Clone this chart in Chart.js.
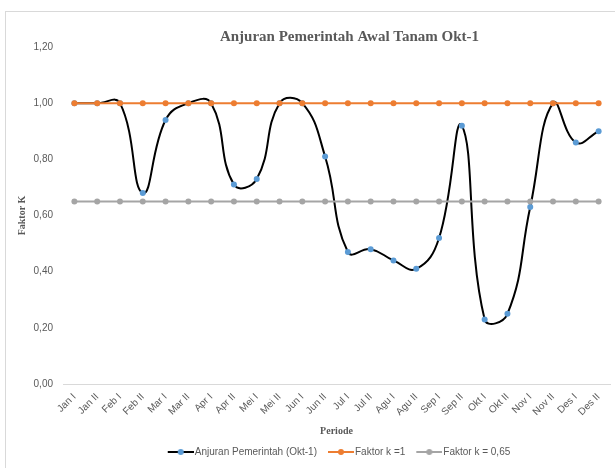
<!DOCTYPE html>
<html>
<head>
<meta charset="utf-8">
<script src="https://cdn.jsdelivr.net/npm/chart.js@4.4.0/dist/chart.umd.min.js"></script>
<style>
  html, body { margin: 0; padding: 0; background: #ffffff; }
  #wrap { width: 615px; height: 468px; position: relative; }
</style>
</head>
<body>
<div id="wrap"><canvas id="c" width="615" height="468"></canvas></div>
<script>
const categories = ["Jan I","Jan II","Feb I","Feb II","Mar I","Mar II","Apr I","Apr II","Mei I","Mei II","Jun I","Jun II","Jul I","Jul II","Agu I","Agu II","Sep I","Sep II","Okt I","Okt II","Nov I","Nov II","Des I","Des II"];
const anjuranValues = [1.00,1.00,1.00,0.68,0.94,1.00,1.00,0.71,0.73,1.00,1.00,0.81,0.47,0.48,0.44,0.41,0.52,0.92,0.23,0.25,0.63,1.00,0.86,0.90];
const faktorK1 = [1,1,1,1,1,1,1,1,1,1,1,1,1,1,1,1,1,1,1,1,1,1,1,1];
const faktorK065 = [0.65,0.65,0.65,0.65,0.65,0.65,0.65,0.65,0.65,0.65,0.65,0.65,0.65,0.65,0.65,0.65,0.65,0.65,0.65,0.65,0.65,0.65,0.65,0.65];
const seriesNames = ["Anjuran Pemerintah (Okt-1)", "Faktor k =1", "Faktor k = 0,65"];
const chartTitle = "Anjuran Pemerintah Awal Tanam Okt-1";
const yTitle = "Faktor K";
const xTitle = "Periode";

const TEXT = '#595959';
const BLUE = '#5B9BD5', ORANGE = '#ED7D31', GRAY = '#A5A5A5';

function makeIcon(lineColor, dotColor) {
  const cv = document.createElement('canvas');
  cv.width = 35; cv.height = 10;
  const g = cv.getContext('2d');
  g.strokeStyle = lineColor; g.lineWidth = 2;
  g.beginPath(); g.moveTo(9, 5); g.lineTo(35, 5); g.stroke();
  g.fillStyle = dotColor;
  g.beginPath(); g.arc(22, 5, 3, 0, Math.PI * 2); g.fill();
  return cv;
}
const icons = [makeIcon('#000000', BLUE), makeIcon(ORANGE, ORANGE), makeIcon(GRAY, GRAY)];

const framePlugin = {
  id: 'frame',
  beforeDraw(chart) {
    const ctx = chart.ctx;
    ctx.save();
    ctx.fillStyle = '#ffffff';
    ctx.fillRect(0, 0, chart.width, chart.height);
    ctx.strokeStyle = '#D9D9D9';
    ctx.lineWidth = 1;
    ctx.strokeRect(5.5, 11.5, 700, 600);
    ctx.restore();
  },
  afterDraw(chart) {
    const ctx = chart.ctx;
    ctx.save();
    ctx.fillStyle = TEXT;
    ctx.font = 'bold 15px "Liberation Serif", "DejaVu Serif", serif';
    ctx.textAlign = 'center';
    ctx.textBaseline = 'middle';
    ctx.fillText(chartTitle, 349.5, 37);
    ctx.restore();
  }
};

new Chart(document.getElementById('c'), {
  type: 'line',
  data: {
    labels: categories,
    datasets: [
      { label: seriesNames[0], data: anjuranValues, borderColor: '#000000', borderWidth: 2,
        pointBackgroundColor: BLUE, pointBorderColor: BLUE, pointRadius: 3, pointBorderWidth: 0,
        tension: 0.45, order: 3, fill: false },
      { label: seriesNames[1], data: faktorK1, borderColor: ORANGE, borderWidth: 2,
        pointBackgroundColor: ORANGE, pointBorderColor: ORANGE, pointRadius: 3, pointBorderWidth: 0,
        tension: 0, order: 2, fill: false },
      { label: seriesNames[2], data: faktorK065, borderColor: GRAY, borderWidth: 2,
        pointBackgroundColor: GRAY, pointBorderColor: GRAY, pointRadius: 3, pointBorderWidth: 0,
        tension: 0, order: 1, fill: false }
    ]
  },
  options: {
    responsive: false,
    animation: false,
    devicePixelRatio: 1,
    layout: { padding: { left: 0, right: 5, top: 47, bottom: 1 } },
    plugins: {
      title: { display: false },
      tooltip: { enabled: false },
      legend: {
        position: 'bottom',
        fullSize: false,
        labels: {
          usePointStyle: true,
          pointStyleWidth: 27,
          boxHeight: 10,
          padding: 6,
          color: TEXT,
          font: { family: '"Liberation Sans", Arial, sans-serif', size: 10 },
          sort: (a, b) => a.datasetIndex - b.datasetIndex,
          generateLabels(chart) {
            const items = Chart.defaults.plugins.legend.labels.generateLabels(chart);
            items.forEach(it => { it.pointStyle = icons[it.datasetIndex]; it.fontColor = TEXT; });
            return items;
          }
        }
      }
    },
    scales: {
      x: {
        type: 'category',
        offset: true,
        afterFit(scale) { scale.height = 57; },
        grid: { display: false, drawTicks: false },
        border: { display: true, color: '#D9D9D9', width: 1 },
        ticks: {
          autoSkip: false, maxRotation: 45, minRotation: 45, padding: 7,
          color: TEXT, font: { family: '"Liberation Sans", Arial, sans-serif', size: 10 }
        },
        title: {
          display: true, text: xTitle, color: TEXT,
          font: { family: '"Liberation Serif", "DejaVu Serif", serif', size: 10, weight: 'bold' },
          padding: { top: 4, bottom: 4 }
        }
      },
      y: {
        min: 0, max: 1.2,
        afterFit(scale) { scale.width = 63; },
        grid: { display: false, drawTicks: false },
        border: { display: false },
        ticks: {
          stepSize: 0.2, padding: 10, color: TEXT,
          font: { family: '"Liberation Sans", Arial, sans-serif', size: 10 },
          callback: (v) => Number(v).toFixed(2).replace('.', ',')
        },
        title: {
          display: true, text: yTitle, color: TEXT,
          font: { family: '"Liberation Serif", "DejaVu Serif", serif', size: 10, weight: 'bold' },
          padding: { top: 16, bottom: 0 }
        }
      }
    }
  },
  plugins: [framePlugin]
});
</script>
</body>
</html>
